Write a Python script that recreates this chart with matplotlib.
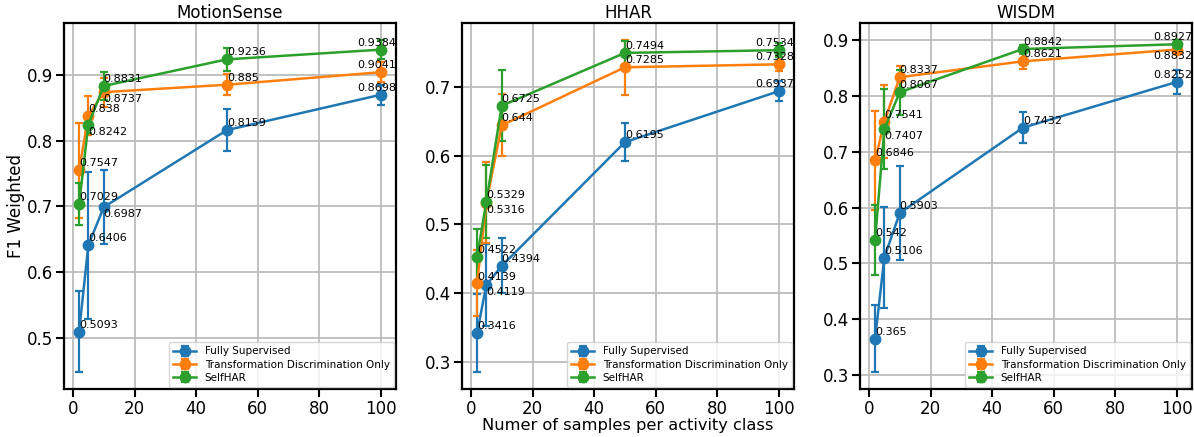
import matplotlib
matplotlib.use('Agg')
import matplotlib.pyplot as plt

# samples per activity class
samples = [2, 5, 10, 50, 100]
methods = ['Fully Supervised', 'Transformation Discrimination Only', 'SelfHAR']
datasets = ['MotionSense', 'HHAR', 'WISDM']

# F1 weighted means
motionsense_fs = [0.5093, 0.6406, 0.6987, 0.8159, 0.8698]
motionsense_td = [0.7547, 0.838, 0.8737, 0.885, 0.9041]
motionsense_sh = [0.7029, 0.8242, 0.8831, 0.9236, 0.9384]
hhar_fs = [0.3416, 0.4119, 0.4394, 0.6195, 0.6937]
hhar_td = [0.4139, 0.5316, 0.644, 0.7285, 0.7328]
hhar_sh = [0.4522, 0.5329, 0.6725, 0.7494, 0.7534]
wisdm_fs = [0.365, 0.5106, 0.5903, 0.7432, 0.8252]
wisdm_td = [0.6846, 0.7541, 0.8337, 0.8621, 0.8832]
wisdm_sh = [0.542, 0.7407, 0.8067, 0.8842, 0.8927]

# standard deviations
motionsense_fs_err = [0.062, 0.112, 0.056, 0.032, 0.015]
motionsense_td_err = [0.072, 0.030, 0.022, 0.016, 0.015]
motionsense_sh_err = [0.032, 0.012, 0.021, 0.018, 0.015]
hhar_fs_err = [0.057, 0.060, 0.040, 0.028, 0.015]
hhar_td_err = [0.048, 0.059, 0.045, 0.040, 0.010]
hhar_sh_err = [0.041, 0.053, 0.052, 0.018, 0.010]
wisdm_fs_err = [0.060, 0.091, 0.085, 0.028, 0.021]
wisdm_td_err = [0.088, 0.065, 0.020, 0.013, 0.008]
wisdm_sh_err = [0.062, 0.071, 0.040, 0.008, 0.008]

means = [[motionsense_fs, motionsense_td, motionsense_sh],
         [hhar_fs, hhar_td, hhar_sh],
         [wisdm_fs, wisdm_td, wisdm_sh]]
errs = [[motionsense_fs_err, motionsense_td_err, motionsense_sh_err],
        [hhar_fs_err, hhar_td_err, hhar_sh_err],
        [wisdm_fs_err, wisdm_td_err, wisdm_sh_err]]

# which labels sit below their marker (dataset, method, point index)
below = {(0, 0, 2), (0, 1, 2), (0, 2, 1),
         (1, 0, 1), (1, 1, 1),
         (2, 1, 4), (2, 2, 1)}

colors = ['#1f77b4', '#ff7f0e', '#2ca02c']

plt.rcParams['font.family'] = 'DejaVu Sans'
fig = plt.figure(figsize=(11.94, 4.37), dpi=100)
lefts = [64 / 1194, 462 / 1194, 860 / 1194]
axes = [fig.add_axes([l, 0.110, 0.278, 0.837]) for l in lefts]

for d, ax in enumerate(axes):
    ax.set_axisbelow(True)
    ax.grid(True, color='#bcbcbc', linewidth=1.3)
    for m in range(3):
        ax.errorbar(samples, means[d][m], yerr=errs[d][m], color=colors[m],
                    marker='o', markersize=7.5, linewidth=1.8, capsize=3,
                    elinewidth=1.6, capthick=1.6, label=methods[m])
        for i, (x, y) in enumerate(zip(samples, means[d][m])):
            dy = -5 if (d, m, i) in below else 5
            dx = -17 if i == len(samples) - 1 else 0
            ax.annotate(str(y), (x, y), xytext=(dx, dy),
                        textcoords='offset points', ha='left', va='center',
                        fontsize=8)
    ax.set_title(datasets[d], fontsize=12, pad=4)
    ax.tick_params(direction='out', length=6, width=1.5, labelsize=12, pad=2)
    for s in ax.spines.values():
        s.set_linewidth(1.6)
        s.set_color('black')
    ax.legend(loc='lower right', fontsize=7.5, borderaxespad=0.2,
              handlelength=2.2, labelspacing=0.3)

axes[0].set_ylabel('F1 Weighted', fontsize=12, labelpad=1)
axes[1].set_xlabel('Numer of samples per activity class', fontsize=11.7, labelpad=0)

fig.savefig('out.png', dpi=100)
